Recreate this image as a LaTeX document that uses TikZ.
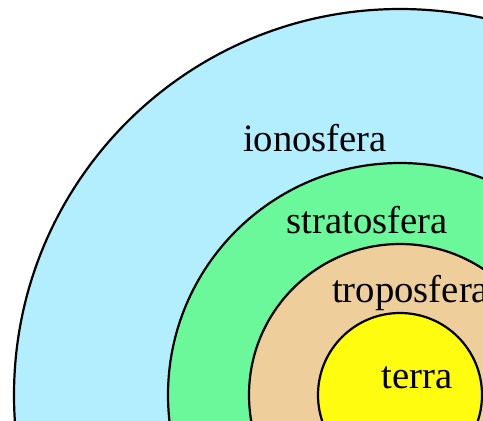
\documentclass[tikz,border=0pt]{standalone}
\usepackage{fontspec}
\setmainfont{Liberation Serif}
\definecolor{iono}{HTML}{B3EEFF}
\definecolor{strato}{HTML}{6AF89B}
\definecolor{tropo}{HTML}{EECE9B}
\definecolor{terra}{HTML}{FFFC10}
\begin{document}
\begin{tikzpicture}[x=1pt,y=-1pt,
  layer/.style={draw=black,line width=2.2pt},
  lbl/.style={inner sep=0pt,font=\fontsize{38.7}{40}\selectfont}]
\useasboundingbox (0,0) rectangle (483,421);
\clip (0,0) rectangle (483,421);
\coordinate (c) at (400,395);
\fill[white] (0,0) rectangle (483,421);
\draw[layer,fill=iono] (c) circle[radius=386];
\draw[layer,fill=strato] (c) circle[radius=232];
\draw[layer,fill=tropo] (c) circle[radius=151];
\draw[layer,fill=terra] (c) circle[radius=82];
\node[lbl,anchor=base] (ionosfera) at (315,151) {ionosfera};
\node[lbl,anchor=base] (stratosfera) at (367,233) {stratosfera};
\node[lbl,anchor=base west] (troposfera) at (332,302) {troposfera};
\node[lbl,anchor=base] (terra) at (417,388) {terra};
\end{tikzpicture}
\end{document}
